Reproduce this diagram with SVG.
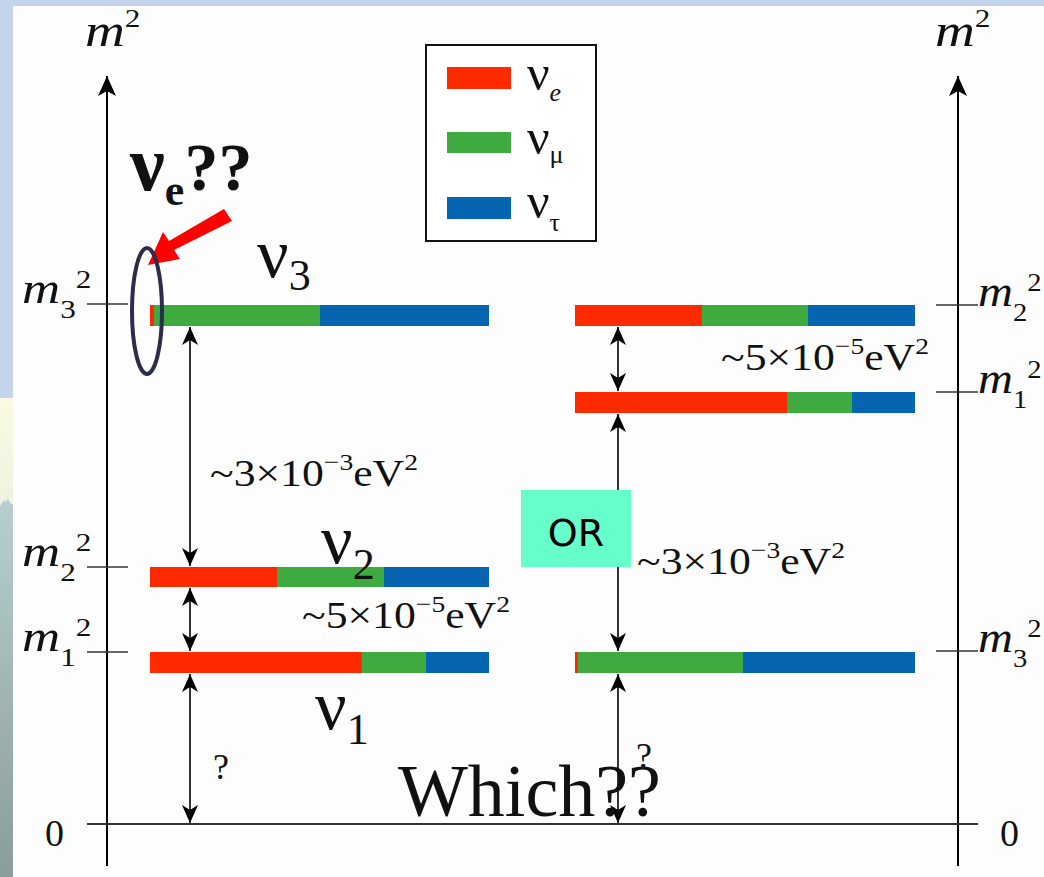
<svg xmlns="http://www.w3.org/2000/svg" width="1044" height="877" viewBox="0 0 1044 877">
<defs>
<linearGradient id="mtn" x1="0" y1="0" x2="0" y2="1">
<stop offset="0" stop-color="#b9cfcf"/>
<stop offset="1" stop-color="#8a9c9c"/>
</linearGradient>
<linearGradient id="yel" x1="0" y1="0" x2="0" y2="1">
<stop offset="0" stop-color="#fafae2"/>
<stop offset="1" stop-color="#eef2e0"/>
</linearGradient>
<marker id="ah" viewBox="0 0 18 16" refX="18" refY="8" markerWidth="18" markerHeight="16" markerUnits="userSpaceOnUse" orient="auto-start-reverse">
<path d="M0,0 L18,8 L0,16 L5,8 Z" fill="#000"/>
</marker>
<marker id="axh" viewBox="0 0 20 18" refX="20" refY="9" markerWidth="20" markerHeight="18" markerUnits="userSpaceOnUse" orient="auto">
<path d="M0,0 L20,9 L0,18 L5,9 Z" fill="#000"/>
</marker>
</defs>
<style>
.serif{font-family:"Liberation Serif","Times New Roman",serif;fill:#111}
.it{font-style:italic}
.ax{stroke:#000;stroke-width:2;fill:none}
.tick{stroke:#333;stroke-width:1.6}
.dbl{stroke:#000;stroke-width:1.6;marker-start:url(#ah);marker-end:url(#ah)}
.r{fill:#ff2a00}.g{fill:#3faa3f}.b{fill:#0565b0}
</style>
<rect x="0" y="0" width="1044" height="877" fill="#fdfdfd"/>
<rect x="0" y="0" width="1044" height="6" fill="#c4d4ec"/>
<rect x="0" y="0" width="13" height="398" fill="#c4d4ec"/>
<rect x="0" y="398" width="13" height="110" fill="url(#yel)"/>
<path d="M0,506 L4,500 L6,502 L8,498 L10,503 L13,505 L13,877 L0,877 Z" fill="url(#mtn)"/>

<g id="axes">
<line class="ax" x1="107" y1="866" x2="107" y2="76" marker-end="url(#axh)"/>
<line class="ax" x1="958" y1="866" x2="958" y2="76" marker-end="url(#axh)"/>
<line x1="87" y1="824" x2="978" y2="824" stroke="#333" stroke-width="2.2"/>
<line class="tick" x1="87" y1="304" x2="128" y2="304"/>
<line class="tick" x1="87" y1="567" x2="128" y2="567"/>
<line class="tick" x1="87" y1="652" x2="128" y2="652"/>
<line class="tick" x1="936" y1="305" x2="978" y2="305"/>
<line class="tick" x1="936" y1="392" x2="978" y2="392"/>
<line class="tick" x1="936" y1="651" x2="978" y2="651"/>
<text class="serif it" font-size="46" transform="translate(85,46) scale(1.2,1)">m<tspan font-size="26" font-style="normal" dy="-19">2</tspan></text>
<text class="serif it" font-size="46" transform="translate(935,46) scale(1.2,1)">m<tspan font-size="26" font-style="normal" dy="-19">2</tspan></text>
<text class="serif it" font-size="44" transform="translate(22,303) scale(1.2,1)">m<tspan font-size="26" font-style="normal" dy="15">3</tspan><tspan font-size="26" font-style="normal" dy="-30">2</tspan></text>
<text class="serif it" font-size="44" transform="translate(22,566) scale(1.2,1)">m<tspan font-size="26" font-style="normal" dy="15">2</tspan><tspan font-size="26" font-style="normal" dy="-30">2</tspan></text>
<text class="serif it" font-size="44" transform="translate(22,651) scale(1.2,1)">m<tspan font-size="26" font-style="normal" dy="15">1</tspan><tspan font-size="26" font-style="normal" dy="-30">2</tspan></text>
<text class="serif it" font-size="44" transform="translate(978,306) scale(1.1,1)">m<tspan font-size="26" font-style="normal" dy="15">2</tspan><tspan font-size="26" font-style="normal" dy="-30">2</tspan></text>
<text class="serif it" font-size="44" transform="translate(978,393) scale(1.1,1)">m<tspan font-size="26" font-style="normal" dy="15">1</tspan><tspan font-size="26" font-style="normal" dy="-30">2</tspan></text>
<text class="serif it" font-size="44" transform="translate(978,652) scale(1.1,1)">m<tspan font-size="26" font-style="normal" dy="15">3</tspan><tspan font-size="26" font-style="normal" dy="-30">2</tspan></text>
<text class="serif" font-size="38" x="45" y="846">0</text>
<text class="serif" font-size="38" x="1000" y="846">0</text>
</g>

<g id="legend">
<rect x="426" y="45" width="170" height="196" fill="#fff" stroke="#111" stroke-width="2"/>
<rect class="r" x="447" y="67" width="64" height="22"/>
<rect class="g" x="447" y="132" width="64" height="21"/>
<rect class="b" x="447" y="197" width="64" height="22"/>
<text class="serif" font-size="50" x="527" y="90">ν<tspan class="it" font-size="26" dy="11">e</tspan></text>
<text class="serif" font-size="50" x="527" y="154">ν<tspan font-size="26" dy="9">μ</tspan></text>
<text class="serif" font-size="50" x="527" y="218">ν<tspan font-size="26" dy="13">τ</tspan></text>
</g>

<g id="left-nu3">
<rect class="r" x="150" y="305" width="4" height="21"/>
<rect class="g" x="154" y="305" width="166" height="21"/>
<rect class="b" x="320" y="305" width="169" height="21"/>
</g>
<g id="left-nu2">
<rect class="r" x="150" y="567" width="127" height="20"/>
<rect class="g" x="277" y="567" width="107" height="20"/>
<rect class="b" x="384" y="567" width="105" height="20"/>
</g>
<g id="left-nu1">
<rect class="r" x="150" y="652" width="212" height="21"/>
<rect class="g" x="362" y="652" width="64" height="21"/>
<rect class="b" x="426" y="652" width="63" height="21"/>
</g>
<g id="right-m2">
<rect class="r" x="575" y="305" width="127" height="21"/>
<rect class="g" x="702" y="305" width="106" height="21"/>
<rect class="b" x="808" y="305" width="107" height="21"/>
</g>
<g id="right-m1">
<rect class="r" x="575" y="392" width="212" height="21"/>
<rect class="g" x="787" y="392" width="65" height="21"/>
<rect class="b" x="852" y="392" width="63" height="21"/>
</g>
<g id="right-m3">
<rect class="r" x="575" y="652" width="3" height="21"/>
<rect class="g" x="578" y="652" width="165" height="21"/>
<rect class="b" x="743" y="652" width="172" height="21"/>
</g>

<g id="connectors">
<line class="dbl" x1="190" y1="327" x2="190" y2="566"/>
<line class="dbl" x1="190" y1="588" x2="190" y2="651"/>
<line class="dbl" x1="190" y1="674" x2="190" y2="823"/>
<line class="dbl" x1="618" y1="327" x2="618" y2="391"/>
<line class="dbl" x1="618" y1="414" x2="618" y2="651"/>
<line class="dbl" x1="618" y1="674" x2="618" y2="823"/>
<polygon points="232,221 224,209 169,241 163,232 148,265 180,259 174,250" fill="#ff0000"/>
<ellipse cx="147" cy="311" rx="15" ry="63" fill="none" stroke="#2d2d4b" stroke-width="4"/>
</g>

<g id="labels">
<text class="serif" font-size="38" transform="translate(210,486) scale(1.15,1)">~3×10<tspan font-size="24" dy="-16">−3</tspan><tspan dy="16">eV</tspan><tspan font-size="24" dy="-16">2</tspan></text>
<text class="serif" font-size="38" transform="translate(302,628) scale(1.15,1)">~5×10<tspan font-size="24" dy="-16">−5</tspan><tspan dy="16">eV</tspan><tspan font-size="24" dy="-16">2</tspan></text>
<text class="serif" font-size="38" transform="translate(721,370) scale(1.15,1)">~5×10<tspan font-size="24" dy="-16">−5</tspan><tspan dy="16">eV</tspan><tspan font-size="24" dy="-16">2</tspan></text>
<text class="serif" font-size="38" transform="translate(637,574) scale(1.15,1)">~3×10<tspan font-size="24" dy="-16">−3</tspan><tspan dy="16">eV</tspan><tspan font-size="24" dy="-16">2</tspan></text>
<text class="serif" font-size="36" x="213" y="779">?</text>
<text class="serif" font-size="36" x="636" y="768">?</text>
<text class="serif" font-size="70" x="257" y="277">ν<tspan font-size="44" dy="13">3</tspan></text>
<text class="serif" font-size="70" x="321" y="563">ν<tspan font-size="44" dy="16">2</tspan></text>
<text class="serif" font-size="70" x="315" y="729">ν<tspan font-size="44" dy="15">1</tspan></text>
<text class="serif" font-size="78" font-weight="bold" x="130" y="190">ν<tspan font-size="44" dy="15">e</tspan><tspan font-size="68" dy="-15">??</tspan></text>
<text class="serif" font-size="74" x="398" y="816">Which??</text>
</g>

<g id="or">
<rect x="521" y="490" width="110" height="77" fill="#66ffcc"/>
<text x="576" y="546" font-family="'DejaVu Sans','Noto Sans',sans-serif" font-size="38" text-anchor="middle" fill="#000">OR</text>
</g>
</svg>
